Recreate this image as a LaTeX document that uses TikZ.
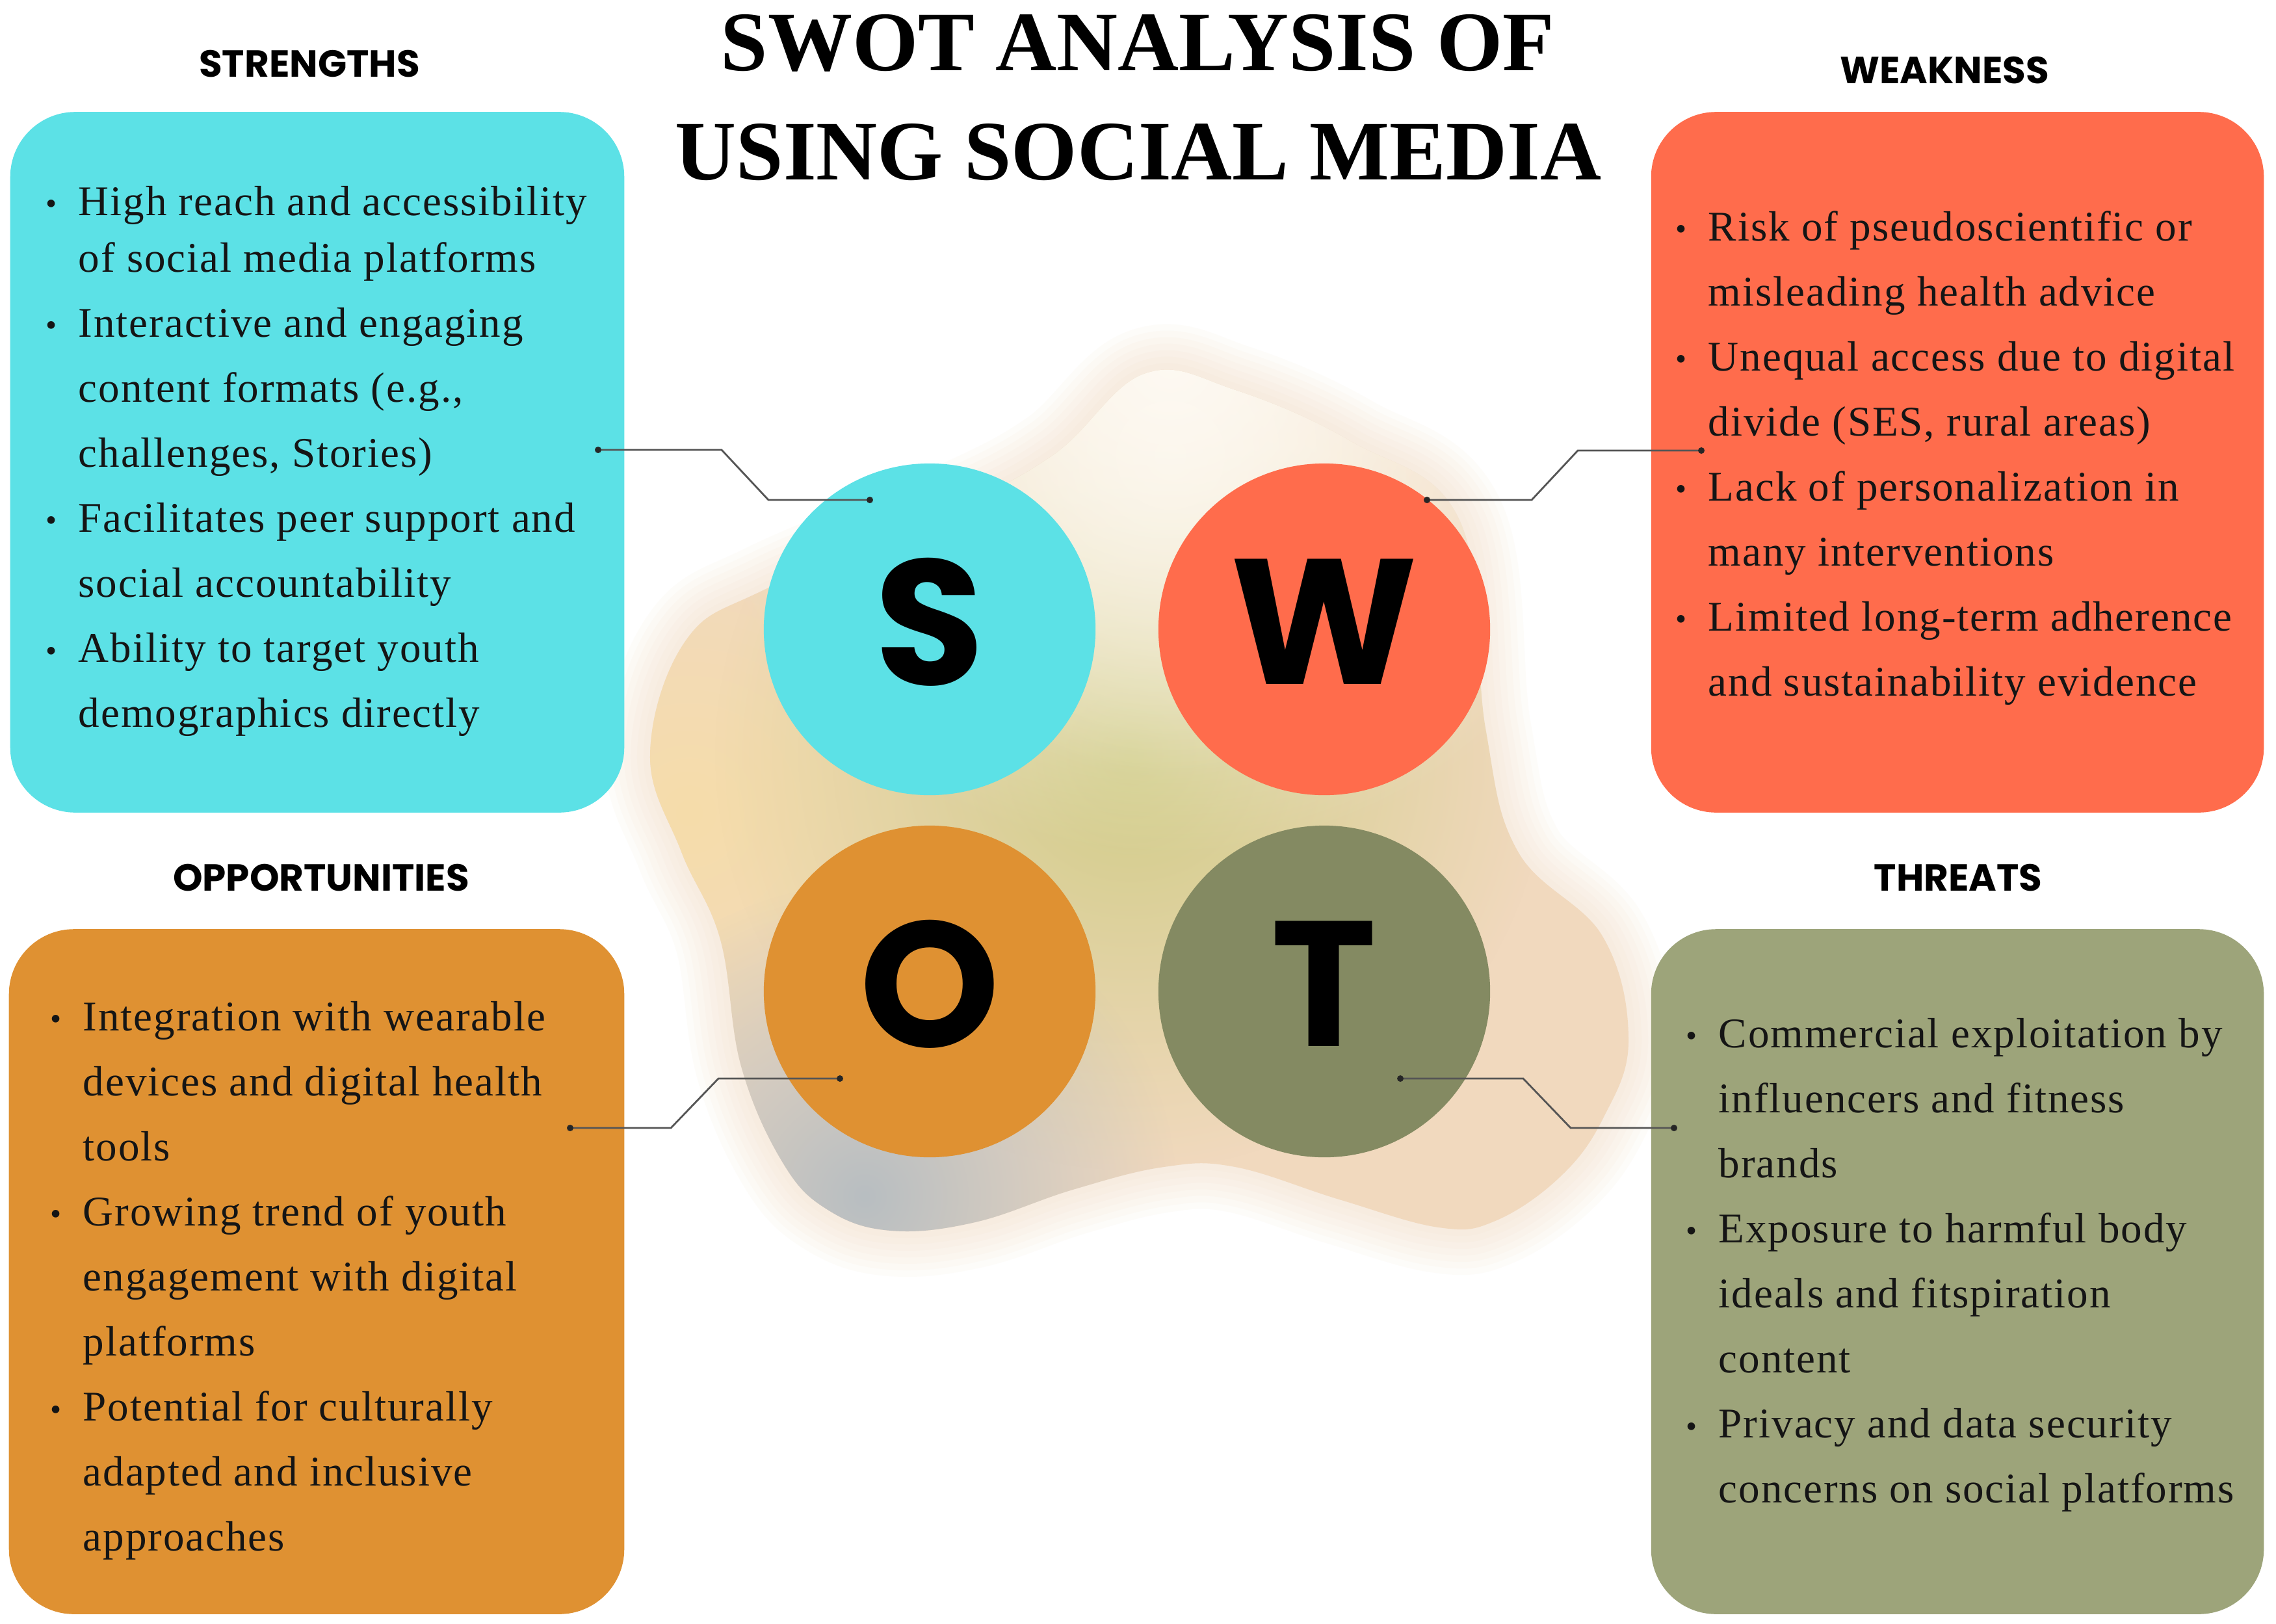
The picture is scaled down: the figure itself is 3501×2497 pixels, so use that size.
\documentclass[tikz,border=0pt]{standalone}
\usepackage{graphicx}
\usepackage{fontspec}
\setmainfont{Liberation Serif}
\newfontfamily\bodyfont{Liberation Serif}[LetterSpace=3]
\newfontfamily\titlefont{Liberation Serif}
\newfontfamily\headfont{Poppins}
\usetikzlibrary{fadings}
\definecolor{sCol}{HTML}{5CE1E6}
\definecolor{wCol}{HTML}{FF6C4C}
\definecolor{oCol}{HTML}{DF9132}
\definecolor{tBox}{HTML}{9DA47A}
\definecolor{tCir}{HTML}{848A62}
\definecolor{linkgray}{HTML}{555555}
\definecolor{txt}{HTML}{151515}
\definecolor{blobA}{HTML}{F1D9BE}
\definecolor{blobG}{HTML}{D0CC86}
\definecolor{blobY}{HTML}{F6DDAA}
\definecolor{blobB}{HTML}{B8BEC2}
\definecolor{blobL}{HTML}{FEFAF3}
\tikzfading[name=glow, inner color=transparent!0, outer color=transparent!100]
\newcommand\bodyset{\bodyfont\fontsize{18.5}{28.45}\selectfont}
\newcommand\itm{\par\noindent\hangindent=0.5cm\hangafter=1\makebox[0.5cm][l]{\raisebox{0.02em}{\scalebox{0.75}{\textbullet}}}}
\begin{document}
\begin{tikzpicture}[x=0.01cm,y=-0.01cm,
  box/.style={rectangle, rounded corners=1cm, inner sep=0, draw=none},
  disc/.style={circle, minimum size=5.1cm, inner sep=0, text=black, font=\headfont\bfseries\fontsize{78}{78}\selectfont},
  head/.style={anchor=base, inner sep=0, text=black, font=\headfont\bfseries\fontsize{16.5}{16.5}\selectfont},
  titlestyle/.style={anchor=base, inner sep=0, text=black, font=\titlefont\bfseries\fontsize{37}{37}\selectfont},
  body/.style={anchor=base west, inner sep=0, text=txt},
  link/.style={draw=linkgray, line width=0.028cm},
  dotc/.style={fill=black!85}
]
\useasboundingbox (0,0) rectangle (3501,2497);
\fill[white] (0,0) rectangle (3501,2497);

% blurred background blob
\path[save path=\blob] plot[smooth cycle, tension=0.65] coordinates {(1000,1160) (1055,985) (1180,905) (1450,790) (1620,700) (1760,575) (1900,600) (2080,680) (2245,800) (2285,1120) (2335,1310) (2465,1440) (2505,1600) (2466,1720) (2400,1810) (2300,1878) (2213,1888) (2060,1845) (1900,1795) (1790,1795) (1650,1830) (1500,1880) (1371,1893) (1275,1862) (1205,1790) (1140,1640) (1108,1445) (1048,1310)};
\foreach \lw in {1.4,1.2,1.0,0.8,0.6,0.4,0.2}{
  \draw[use path=\blob, draw=blobA, line width=\lw cm, opacity=0.08, line join=round];
}
\fill[use path=\blob, blobA];
\begin{scope}
  \clip[use path=\blob];
  \fill[blobY, path fading=glow] (1060,1250) circle (420);
  \fill[blobG, path fading=glow] (1740,1160) circle (640);
  \fill[blobL, path fading=glow] (1800,560) circle (760);
  \fill[blobL, opacity=0.6, path fading=glow] (1800,700) circle (500);
  \fill[blobB, path fading=glow] (1330,1840) circle (480);
\end{scope}

% title
\node[titlestyle] (t1) at (1750,109) {SWOT ANALYSIS OF};
\node[titlestyle] (t2) at (1751,276) {USING SOCIAL MEDIA};

% headings
\node[head] (hS) at (476,119) {STRENGTHS};
\node[head] (hW) at (2991,129) {WEAKNESS};
\node[head] (hO) at (494,1370) {OPPORTUNITIES};
\node[head] (hT) at (3012,1370) {THREATS};

% boxes
\node[box, fill=sCol, minimum width=9.44cm, minimum height=10.77cm] (bS) at (488,711) {};
\node[box, fill=wCol, minimum width=9.42cm, minimum height=10.77cm] (bW) at (3011,711) {};
\node[box, fill=oCol, minimum width=9.46cm, minimum height=10.53cm] (bO) at (487,1956) {};
\node[box, fill=tBox, minimum width=9.42cm, minimum height=10.53cm] (bT) at (3011,1956) {};

% box texts
\node[body] (xS) at (70,331) {\parbox[t]{9cm}{\bodyset
\itm High reach and accessibility\\[-0.13cm]of social media platforms
\itm Interactive and engaging\\content formats (e.g.,\\challenges, Stories)
\itm Facilitates peer support and\\social accountability
\itm Ability to target youth\\demographics directly}};

\node[body] (xW) at (2577,370) {\parbox[t]{9cm}{\bodyset
\itm Risk of pseudoscientific or\\misleading health advice
\itm Unequal access due to digital\\divide (SES, rural areas)
\itm Lack of personalization in\\many interventions
\itm Limited long-term adherence\\and sustainability evidence}};

\node[body] (xO) at (77,1585) {\parbox[t]{9cm}{\bodyset
\itm Integration with wearable\\devices and digital health\\tools
\itm Growing trend of youth\\engagement with digital\\platforms
\itm Potential for culturally\\adapted and inclusive\\approaches}};

\node[body] (xT) at (2593,1611) {\parbox[t]{9cm}{\bodyset
\itm Commercial exploitation by\\influencers and fitness\\brands
\itm Exposure to harmful body\\ideals and fitspiration\\content
\itm Privacy and data security\\concerns on social platforms}};

% circles
\node[disc, fill=sCol] (cS) at (1430,968) {\raisebox{0.24cm}{S}};
\node[disc, fill=wCol] (cW) at (2037,968) {\raisebox{0.24cm}{W}};
\node[disc, fill=oCol] (cO) at (1430,1525) {\raisebox{0.24cm}{O}};
\node[disc, fill=tCir] (cT) at (2037,1525) {\raisebox{0.24cm}{T}};

% connectors
\coordinate (sA) at (920,692);  \coordinate (sB) at (1338,769);
\coordinate (wA) at (2195,769); \coordinate (wB) at (2617,693);
\coordinate (oA) at (877,1735); \coordinate (oB) at (1292,1659);
\coordinate (tA) at (2154,1659); \coordinate (tB) at (2575,1735);
\draw[link] (sA) -- ++(190,0) -- ++(72,77) -- (sB);
\draw[link] (wA) -- ++(161,0) -- ++(71,-76) -- (wB);
\draw[link] (oA) -- ++(155,0) -- ++(73,-76) -- (oB);
\draw[link] (tA) -- ++(189,0) -- ++(73,76) -- (tB);
\foreach \p in {sA,sB,wA,wB,oA,oB,tA,tB}{\fill[dotc] (\p) circle (5);}
\end{tikzpicture}
\end{document}
